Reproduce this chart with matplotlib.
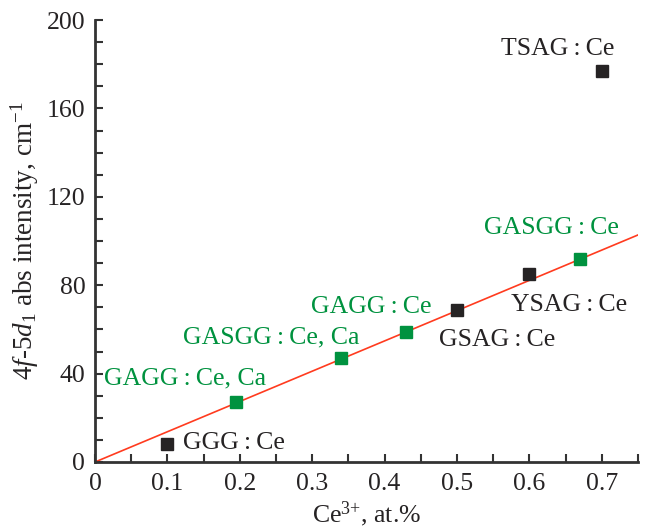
import matplotlib
matplotlib.use("Agg")
import matplotlib.pyplot as plt
from matplotlib.ticker import MultipleLocator
import numpy as np

plt.rcParams['font.family'] = ['Liberation Serif', 'DejaVu Serif']
plt.rcParams['mathtext.fontset'] = 'custom'
plt.rcParams['mathtext.rm'] = 'Liberation Serif'
plt.rcParams['mathtext.it'] = 'Liberation Serif:italic'

# Data
black_x = [0.1, 0.5, 0.6, 0.7]
black_y = [8, 69, 85, 177]
black_labels = ["GGG\u2009:\u2009Ce", "GSAG\u2009:\u2009Ce", "YSAG\u2009:\u2009Ce", "TSAG\u2009:\u2009Ce"]
green_x = [0.195, 0.34, 0.43, 0.67]
green_y = [27, 47, 59, 92]
green_labels = ["GAGG\u2009:\u2009Ce, Ca", "GASGG\u2009:\u2009Ce, Ca", "GAGG\u2009:\u2009Ce", "GASGG\u2009:\u2009Ce"]
fit_x = [0.0, 0.75]
fit_slope = 137.0

# label anchor positions (data coords)
black_lab_pos = [(0.121, 8.6, 'left'), (0.556, 55, 'center'), (0.655, 71, 'center'), (0.639, 187, 'center')]
green_lab_pos = [(0.124, 38, 'center'), (0.244, 56.5, 'center'), (0.381, 70, 'center'), (0.63, 106, 'center')]

BLACK = '#262324'
GREEN = '#00923f'
RED = '#ff3b1f'

fig = plt.figure(figsize=(6.51, 5.28), dpi=100)
ax = fig.add_axes([0.146, 0.125, 0.834, 0.837])

fx = np.array(fit_x)
ax.plot(fx, fit_slope * fx, color=RED, lw=1.2, zorder=2)
ax.plot(black_x, black_y, 's', color=BLACK, ms=8.5, zorder=3)
ax.plot(green_x, green_y, 's', color=GREEN, ms=8.5, zorder=3)

for (x, y, ha), t in zip(black_lab_pos, black_labels):
    ax.text(x, y, t, color=BLACK, fontsize=18.5, ha=ha, va='center')
for (x, y, ha), t in zip(green_lab_pos, green_labels):
    ax.text(x, y, t, color=GREEN, fontsize=18.5, ha=ha, va='center')

ax.set_xlim(0, 0.75)
ax.set_ylim(0, 200)
ax.set_xticks([0, 0.1, 0.2, 0.3, 0.4, 0.5, 0.6, 0.7])
ax.set_xticklabels(['0', '0.1', '0.2', '0.3', '0.4', '0.5', '0.6', '0.7'])
ax.set_yticks([0, 40, 80, 120, 160, 200])
ax.xaxis.set_minor_locator(MultipleLocator(0.05))
ax.yaxis.set_minor_locator(MultipleLocator(10))
ax.tick_params(which='both', direction='in', width=1.5, color='#333333', labelsize=18.5, labelcolor='#262324')
ax.tick_params(which='major', length=6)
ax.tick_params(which='minor', length=6)
ax.tick_params(axis='x', which='major', pad=8)
ax.tick_params(axis='y', which='major', pad=7)
ax.spines['top'].set_visible(False)
ax.spines['right'].set_visible(False)
for s in ('left', 'bottom'):
    ax.spines[s].set_linewidth(2)
    ax.spines[s].set_color('#333333')

ax.set_xlabel('Ce$^{3{+}}$, at.%', fontsize=18.5, labelpad=3, color='#262324')
ax.set_ylabel(r'$\mathit{4f}$-$\mathit{5d}_\mathrm{1}$ abs intensity, cm$^{-1}$', fontsize=19.5, labelpad=4, color='#262324')

fig.savefig('out.png', dpi=100)
